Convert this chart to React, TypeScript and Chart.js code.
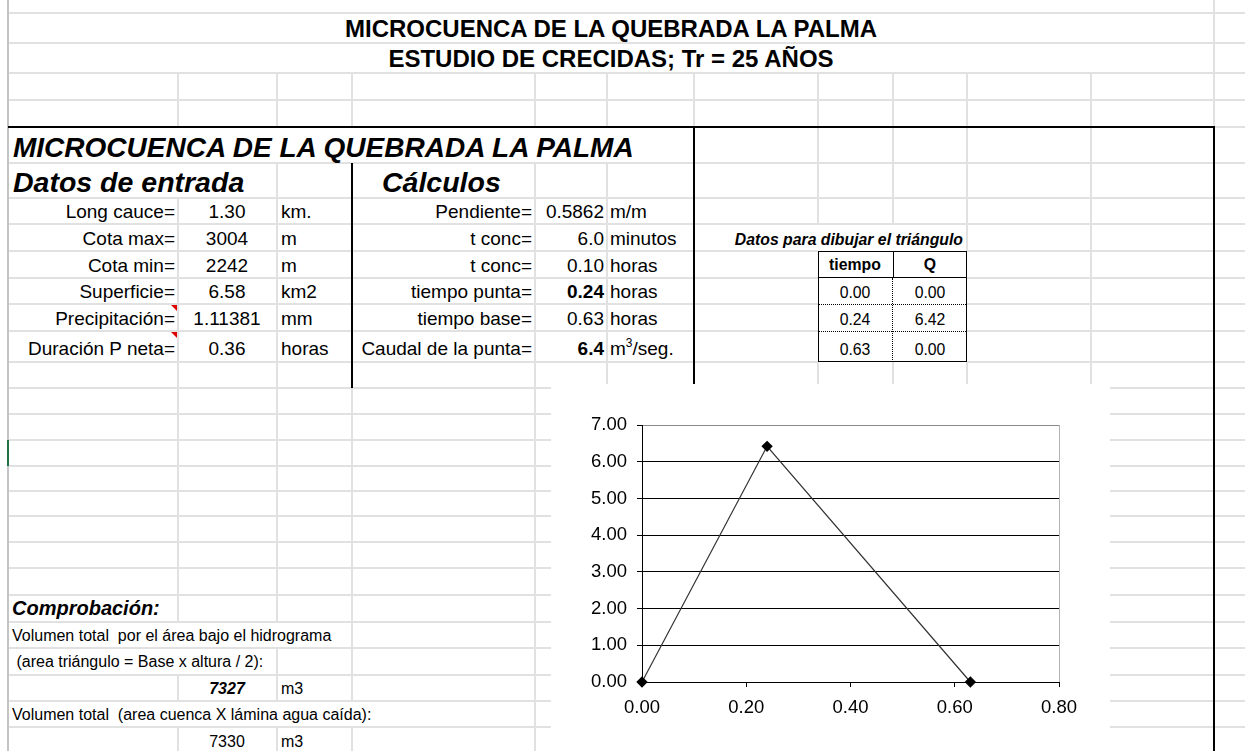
import React, { useEffect, useRef } from "react";
import { Chart, registerables } from "chart.js";

Chart.register(...registerables);

// ---------- data ----------
const tiempo = [0.0, 0.24, 0.63];
const caudal = [0.0, 6.42, 0.0];
const xTickValues = [0, 0.2, 0.4, 0.6, 0.8];
const yTickValues = [0, 1, 2, 3, 4, 5, 6, 7];

const labelsA = ["Long cauce=", "Cota max=", "Cota min=", "Superficie=", "Precipitación=", "Duración P neta="];
const valuesB = ["1.30", "3004", "2242", "6.58", "1.11381", "0.36"];
const unitsC = ["km.", "m", "m", "km2", "mm", "horas"];
const labelsD = ["Pendiente=", "t conc=", "t conc=", "tiempo punta=", "tiempo base=", "Caudal de la punta="];
const valuesE = ["0.5862", "6.0", "0.10", "0.24", "0.63", "6.4"];
const boldE = [false, false, false, true, false, true];
const unitsF = ["m/m", "minutos", "horas", "horas", "horas", "M3SEG"];

const W = 1245;
const H = 751;
const FONT = "'Liberation Sans', Arial, Helvetica, sans-serif";
const GRID = "#e1e1e1";

// ---------- helpers ----------
type TxtProps = {
  t: React.ReactNode;
  x: number;
  b: number;
  size: number;
  align?: "left" | "right" | "center";
  bold?: boolean;
  italic?: boolean;
};
function Txt({ t, x, b, size, align = "left", bold, italic }: TxtProps) {
  const style: React.CSSProperties = {
    position: "absolute",
    top: b - 0.8465 * size,
    fontSize: size,
    lineHeight: `${size}px`,
    fontWeight: bold ? 700 : 400,
    fontStyle: italic ? "italic" : "normal",
    whiteSpace: "pre",
    fontFamily: FONT,
    color: "#000",
  };
  if (align === "left") style.left = x;
  else if (align === "right") style.right = W - x;
  else {
    style.left = x - 400;
    style.width = 800;
    style.textAlign = "center";
  }
  return <div style={style}>{t}</div>;
}

function HLine({ y, x1, x2, c = GRID, w = 2 }: { y: number; x1: number; x2: number; c?: string; w?: number }) {
  return <div style={{ position: "absolute", left: x1, top: y - w / 2, width: x2 - x1, height: w, background: c }} />;
}
function VLine({ x, y1, y2, c = GRID, w = 2 }: { x: number; y1: number; y2: number; c?: string; w?: number }) {
  return <div style={{ position: "absolute", left: x - w / 2, top: y1, width: w, height: y2 - y1, background: c }} />;
}

// ---------- chart ----------
function HydroChart() {
  const ref = useRef<HTMLCanvasElement>(null);
  useEffect(() => {
    const borderPlugin = {
      id: "plotBorder",
      afterDraw(chart: any) {
        const { ctx, chartArea: a } = chart;
        ctx.save();
        ctx.strokeStyle = "#b4b4b4";
        ctx.lineWidth = 1;
        ctx.beginPath();
        const x = Math.round(a.right) + 0.5;
        ctx.moveTo(x, a.top);
        ctx.lineTo(x, a.bottom);
        ctx.stroke();
        ctx.restore();
      },
    };
    const chart = new Chart(ref.current as HTMLCanvasElement, {
      type: "scatter",
      data: {
        datasets: [
          {
            data: tiempo.map((t, i) => ({ x: t, y: caudal[i] })),
            showLine: true,
            borderColor: "#333",
            borderWidth: 1.2,
            pointStyle: "rectRot",
            pointRadius: 4.8,
            pointBackgroundColor: "#000",
            pointBorderColor: "#000",
            clip: false,
          } as any,
        ],
      },
      options: {
        animation: false,
        responsive: false,
        maintainAspectRatio: false,
        layout: { padding: { left: 0, top: 41, right: 51, bottom: 29 } },
        plugins: { legend: { display: false }, tooltip: { enabled: false } },
        scales: {
          x: {
            type: "linear",
            min: 0,
            max: 0.8,
            afterBuildTicks: (s: any) => {
              s.ticks = xTickValues.map((v) => ({ value: v }));
            },
            ticks: {
              callback: (v: any) => Number(v).toFixed(2),
              color: "#000",
              font: { family: FONT, size: 18.5 },
              padding: 10,
              maxRotation: 0,
              autoSkip: false,
            },
            grid: { drawOnChartArea: false, drawTicks: true, tickLength: 5, tickColor: "#000" },
            border: { color: "#000", width: 1 },
            afterFit: (s: any) => {
              s.height = 40;
            },
          },
          y: {
            type: "linear",
            min: 0,
            max: 7,
            afterBuildTicks: (s: any) => {
              s.ticks = yTickValues.map((v) => ({ value: v }));
            },
            ticks: {
              callback: (v: any) => Number(v).toFixed(2),
              color: "#000",
              font: { family: FONT, size: 18.5 },
              padding: 10,
              autoSkip: false,
            },
            grid: {
              color: (c: any) => (c.tick && c.tick.value === 7 ? "#8a8a8a" : "#000"),
              tickLength: 5,
              tickColor: "#000",
            },
            border: { color: "#000", width: 1 },
            afterFit: (s: any) => {
              s.width = 91;
            },
          },
        },
      } as any,
      plugins: [borderPlugin],
    });
    return () => chart.destroy();
  }, []);
  return <canvas ref={ref} width={559} height={367} style={{ display: "block", width: 559, height: 367 }} />;
}

// ---------- sheet ----------
export default function App() {
  const topRows = [13, 43, 73, 100];
  const midRowsFull = [163, 198, 224];
  const midRowsSplit = [251, 278, 304, 331, 362];
  const lowRows = [388, 414, 440, 466, 491, 516, 542, 568, 595, 622, 648, 675, 701, 727];
  const rowBase = [218, 245, 272, 298, 325, 355];

  const vSegs: [number, number, number][] = [
    [178, 73, 127], [178, 198, 622], [178, 675, 701], [178, 727, 751],
    [277, 73, 127], [277, 163, 622], [277, 648, 701], [277, 727, 751],
    [352, 73, 127], [352, 388, 701], [352, 727, 751],
    [535, 73, 127], [535, 163, 751],
    [607, 73, 127], [607, 163, 384],
    [694, 73, 127],
    [818, 73, 224], [818, 362, 384],
    [893, 73, 224], [893, 362, 384],
    [967, 73, 251], [967, 362, 384],
    [1091, 73, 384],
    [1214, 0, 127],
  ];

  const m3seg = (
    <span>
      m<span style={{ fontSize: 12, position: "relative", top: -8 }}>3</span>/seg.
    </span>
  );

  return (
    <div
      style={{
        position: "absolute",
        left: 0,
        top: 0,
        width: W,
        height: H,
        overflow: "hidden",
        background: "#fff",
        fontFamily: FONT,
      }}
    >
      {/* gridlines */}
      {topRows.map((y) => (
        <HLine key={"t" + y} y={y} x1={8} x2={W} />
      ))}
      <HLine y={127} x1={1214} x2={W} />
      {midRowsFull.map((y) => (
        <HLine key={"m" + y} y={y} x1={8} x2={W} />
      ))}
      {midRowsSplit.map((y) => (
        <React.Fragment key={"s" + y}>
          <HLine y={y} x1={8} x2={818} />
          <HLine y={y} x1={967} x2={W} />
        </React.Fragment>
      ))}
      {lowRows.map((y) => (
        <HLine key={"l" + y} y={y} x1={8} x2={W} />
      ))}
      {vSegs.map(([x, a, b], i) => (
        <VLine key={"v" + i} x={x} y1={a} y2={b} />
      ))}
      {/* sheet left edge */}
      <VLine x={8} y1={0} y2={H} c="#c4c4c4" w={2} />
      <div style={{ position: "absolute", left: 7, top: 440, width: 2, height: 26, background: "#217346" }} />

      {/* black borders */}
      <HLine y={127} x1={8} x2={1215} c="#000" w={2} />
      <VLine x={1214} y1={126} y2={H} c="#000" w={2} />
      <VLine x={352} y1={163} y2={388} c="#000" w={2} />
      <VLine x={694} y1={127} y2={384} c="#000" w={2} />

      {/* triangle data table */}
      <div
        style={{
          position: "absolute",
          left: 818,
          top: 251,
          width: 149,
          height: 111,
          border: "1px solid #000",
          boxSizing: "border-box",
        }}
      />
      <HLine y={277.5} x1={818} x2={967} c="#000" w={1} />
      <VLine x={893} y1={251} y2={278} c="#000" w={1} />
      <div style={{ position: "absolute", left: 892, top: 278, height: 84, borderLeft: "1px dotted #000" }} />
      <div style={{ position: "absolute", left: 819, top: 304, width: 147, borderTop: "1px dotted #000" }} />
      <div style={{ position: "absolute", left: 819, top: 331, width: 147, borderTop: "1px dotted #000" }} />

      {/* comment indicators */}
      {[305, 332].map((y) => (
        <div
          key={"c" + y}
          style={{
            position: "absolute",
            left: 171,
            top: y,
            width: 0,
            height: 0,
            borderTop: "6px solid #e00000",
            borderLeft: "6px solid transparent",
          }}
        />
      ))}

      {/* titles */}
      <Txt t="MICROCUENCA DE LA QUEBRADA LA PALMA" x={611} b={37} size={24} align="center" bold />
      <Txt t="ESTUDIO DE CRECIDAS; Tr = 25 AÑOS" x={611} b={67} size={24} align="center" bold />
      <Txt t="MICROCUENCA DE LA QUEBRADA LA PALMA" x={13} b={158} size={28} bold italic />
      <Txt t="Datos de entrada" x={13} b={192} size={28.5} bold italic />
      <Txt t="Cálculos" x={382} b={192} size={28.5} bold italic />

      {/* input / calc rows */}
      {labelsA.map((s, i) => (
        <Txt key={"a" + i} t={s} x={175} b={rowBase[i]} size={19} align="right" />
      ))}
      {valuesB.map((s, i) => (
        <Txt key={"b" + i} t={s} x={227} b={rowBase[i]} size={19} align="center" />
      ))}
      {unitsC.map((s, i) => (
        <Txt key={"c" + i} t={s} x={281} b={rowBase[i]} size={19} />
      ))}
      {labelsD.map((s, i) => (
        <Txt key={"d" + i} t={s} x={532} b={rowBase[i]} size={19} align="right" />
      ))}
      {valuesE.map((s, i) => (
        <Txt key={"e" + i} t={s} x={604} b={rowBase[i]} size={19} align="right" bold={boldE[i]} />
      ))}
      {unitsF.map((s, i) => (
        <Txt key={"f" + i} t={s === "M3SEG" ? m3seg : s} x={610} b={rowBase[i]} size={19} />
      ))}

      {/* triangle table text */}
      <Txt t="Datos para dibujar el triángulo" x={963} b={245} size={15.8} align="right" bold italic />
      <Txt t="tiempo" x={855} b={270} size={15.8} align="center" bold />
      <Txt t="Q" x={930} b={270} size={15.8} align="center" bold />
      {tiempo.map((v, i) => (
        <Txt key={"tt" + i} t={v.toFixed(2)} x={855} b={[298, 325, 355][i]} size={15.8} align="center" />
      ))}
      {caudal.map((v, i) => (
        <Txt key={"tq" + i} t={v.toFixed(2)} x={930} b={[298, 325, 355][i]} size={15.8} align="center" />
      ))}

      {/* comprobación */}
      <Txt t="Comprobación:" x={12} b={615} size={20} bold italic />
      <Txt t="Volumen total  por el área bajo el hidrograma" x={12} b={642} size={16} />
      <Txt t=" (area triángulo = Base x altura / 2):" x={12} b={668} size={16} />
      <Txt t="7327" x={227} b={695} size={16} align="center" bold italic />
      <Txt t="m3" x={281} b={695} size={16} />
      <Txt t="Volumen total  (area cuenca X lámina agua caída):" x={12} b={721} size={16} />
      <Txt t="7330" x={227} b={748} size={16} align="center" />
      <Txt t="m3" x={281} b={748} size={16} />

      {/* chart object */}
      <div style={{ position: "absolute", left: 551, top: 384, width: 559, height: 367, background: "#fff" }}>
        <HydroChart />
      </div>
    </div>
  );
}
